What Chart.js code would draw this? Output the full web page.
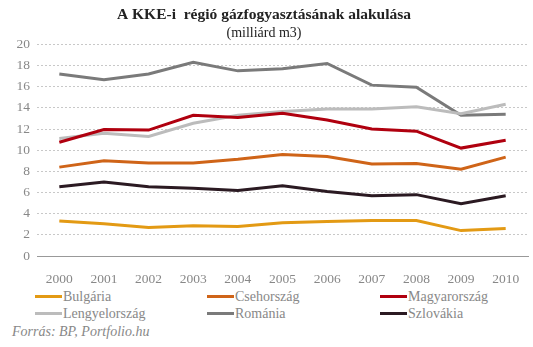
<!DOCTYPE html>
<html>
<head>
<meta charset="utf-8">
<script src="https://cdn.jsdelivr.net/npm/chart.js@4"></script>
<style>
  body{margin:0;background:#fff;font-family:"Liberation Serif",serif;}
  .wrap{position:relative;width:533px;height:347px;}
  #chart{position:absolute;left:0;top:0;}
  .legend{position:absolute;left:0;top:288px;width:533px;}
  .item{position:absolute;color:#888;font-size:14px;line-height:17px;white-space:nowrap;}
  .item span.sw{display:inline-block;width:27px;height:3px;vertical-align:middle;margin-right:1px;position:relative;top:-1px;}
  .source{position:absolute;left:12px;top:324px;color:#888;font-size:14px;font-style:italic;}
</style>
</head>
<body>
<div class="wrap">
  <canvas id="chart" width="533" height="285"></canvas>
  <div class="legend" id="legend"></div>
  <div class="source">Forrás: BP, Portfolio.hu</div>
</div>
<script>
let years=["2000","2001","2002","2003","2004","2005","2006","2007","2008","2009","2010"];
let bulgaria=[3.3,3.05,2.7,2.85,2.8,3.15,3.25,3.35,3.35,2.4,2.6];
let cseh=[8.4,9.0,8.8,8.8,9.15,9.6,9.4,8.7,8.75,8.2,9.35];
let magyar=[10.75,11.95,11.9,13.3,13.1,13.5,12.85,12.0,11.8,10.2,10.95];
let lengyel=[11.1,11.6,11.3,12.55,13.3,13.65,13.9,13.9,14.1,13.45,14.35];
let romania=[17.2,16.65,17.2,18.3,17.5,17.7,18.2,16.15,15.95,13.3,13.4];
let szlovak=[6.55,7.0,6.55,6.4,6.2,6.65,6.1,5.7,5.8,4.95,5.7];
let yTicks=[0,2,4,6,8,10,12,14,16,18,20];

let names=["Bulgária","Csehország","Magyarország","Lengyelország","Románia","Szlovákia"];
let colors=["#e39a14","#cf6418","#b0000f","#bcbcbc","#7a7a7a","#2b1a22"];
let series=[bulgaria,cseh,magyar,lengyel,romania,szlovak];

let datasets=series.map((s,i)=>({
    label:names[i],
    data:s,
    borderColor:colors[i],
    backgroundColor:colors[i],
    borderWidth:3,
    pointRadius:0,
    tension:0,
    fill:false
}));

let ctx=document.getElementById("chart").getContext("2d");
let chart=new Chart(ctx,{
    type:"line",
    data:{labels:years,datasets:datasets},
    options:{
        responsive:false,
        animation:false,
        layout:{padding:{left:0,right:5,top:0,bottom:0}},
        plugins:{
            legend:{display:false},
            tooltip:{enabled:false},
            title:{
                display:true,
                text:"A KKE-i  régió gázfogyasztásának alakulása",
                color:"#222",
                font:{family:"Liberation Serif",size:15.5,weight:"bold"},
                padding:{top:6,bottom:0}
            },
            subtitle:{
                display:true,
                text:"(milliárd m3)",
                color:"#222",
                font:{family:"Liberation Serif",size:14},
                padding:{top:0,bottom:3}
            }
        },
        scales:{
            x:{
                offset:true,
                grid:{display:false},
                border:{display:true,color:"#999",width:1},
                ticks:{color:"#888",font:{family:"Liberation Serif",size:13.5},padding:7,maxRotation:0},
                afterFit:(s)=>{s.height=29;}
            },
            y:{
                min:0,max:20,
                afterBuildTicks:(s)=>{s.ticks=yTicks.map(v=>({value:v}));},
                grid:{
                    color:(c)=>c.tick && c.tick.value===0?"rgba(0,0,0,0)":"#c8c8c8",
                    lineWidth:1,
                    drawTicks:false
                },
                border:{display:false,dash:[2,2]},
                ticks:{color:"#888",font:{family:"Liberation Serif",size:13.5},padding:7},
                afterFit:(s)=>{s.width=37;}
            }
        }
    }
});

// legend in 3 columns, built from the datasets
let legend=document.getElementById("legend");
let colX=[35,207,380];
chart.data.datasets.forEach((d,i)=>{
    let el=document.createElement("div");
    el.className="item";
    el.style.left=colX[i%3]+"px";
    el.style.top=(Math.floor(i/3)*17)+"px";
    el.innerHTML=`<span class="sw" style="background:${d.borderColor}"></span>${d.label}`;
    legend.appendChild(el);
});
</script>
</body>
</html>
